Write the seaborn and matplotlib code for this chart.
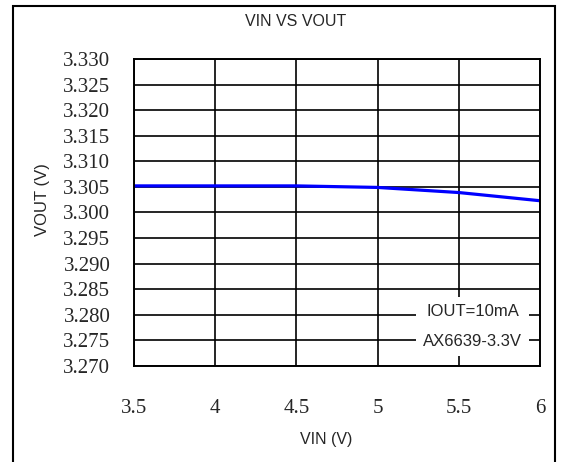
import matplotlib
matplotlib.use("Agg")
import matplotlib.pyplot as plt
import matplotlib.patches as patches
import seaborn as sns
import pandas as pd

vin = [3.5, 4.0, 4.5, 5.0, 5.5, 6.0]
vout = [3.3052, 3.3052, 3.3052, 3.3049, 3.3039, 3.3023]
x_ticks = [3.5, 4, 4.5, 5, 5.5, 6]
x_labels = ["3.5", "4", "4.5", "5", "5.5", "6"]
y_ticks = [3.270 + 0.005 * i for i in range(13)]
y_labels = [f"{v:.3f}" for v in y_ticks]

sns.set_style("white")
plt.rcParams['font.family'] = ['Liberation Sans', 'DejaVu Sans']

data = pd.DataFrame({'VIN': vin, 'VOUT': vout})

fig = plt.figure(figsize=(5.69, 4.62), dpi=100)
ax = fig.add_axes([0.2355, 0.2078, 0.7135, 0.6645])

sns.lineplot(data=data, x='VIN', y='VOUT', color='#0000ff', linewidth=2.3, ax=ax)

ax.set_xlim(3.5, 6)
ax.set_ylim(3.270, 3.330)
ax.set_xticks(x_ticks)
ax.set_xticklabels(x_labels, family='Liberation Serif', fontsize=15)
ax.set_yticks(y_ticks)
ax.set_yticklabels(y_labels, family='Liberation Serif', fontsize=15)
ax.tick_params(axis='x', length=0, pad=24)
ax.tick_params(axis='y', length=0, pad=17)
ax.grid(True, color='black', linewidth=1.2)
for s in ax.spines.values():
    s.set_color('black')
    s.set_linewidth(1.4)

# label positions (outside the plot area)
ax.set_xlabel('VIN (V)', fontsize=11.5, va='center')
ax.xaxis.set_label_coords(0.473, -0.24)
ax.set_ylabel('VOUT (V)', fontsize=12, va='center')
ax.yaxis.set_label_coords(-0.2266, 0.5407)
ax.set_title('VIN VS VOUT', fontsize=11.5, x=0.399, y=1.122, va='center', pad=0)

ax.text(0.834, 0.1287, 'IOUT=10mA\nAX6639-3.3V', transform=ax.transAxes,
        ha='center', va='center', fontsize=12, linespacing=2.2,
        bbox=dict(facecolor='white', edgecolor='none', pad=5))

border = patches.Rectangle((13 / 569, -0.02), (555 - 13) / 569, 1.02 - 6 / 462,
                           transform=fig.transFigure, fill=False,
                           edgecolor='black', linewidth=1.5)
fig.patches.append(border)

fig.savefig('out.png', dpi=100)
